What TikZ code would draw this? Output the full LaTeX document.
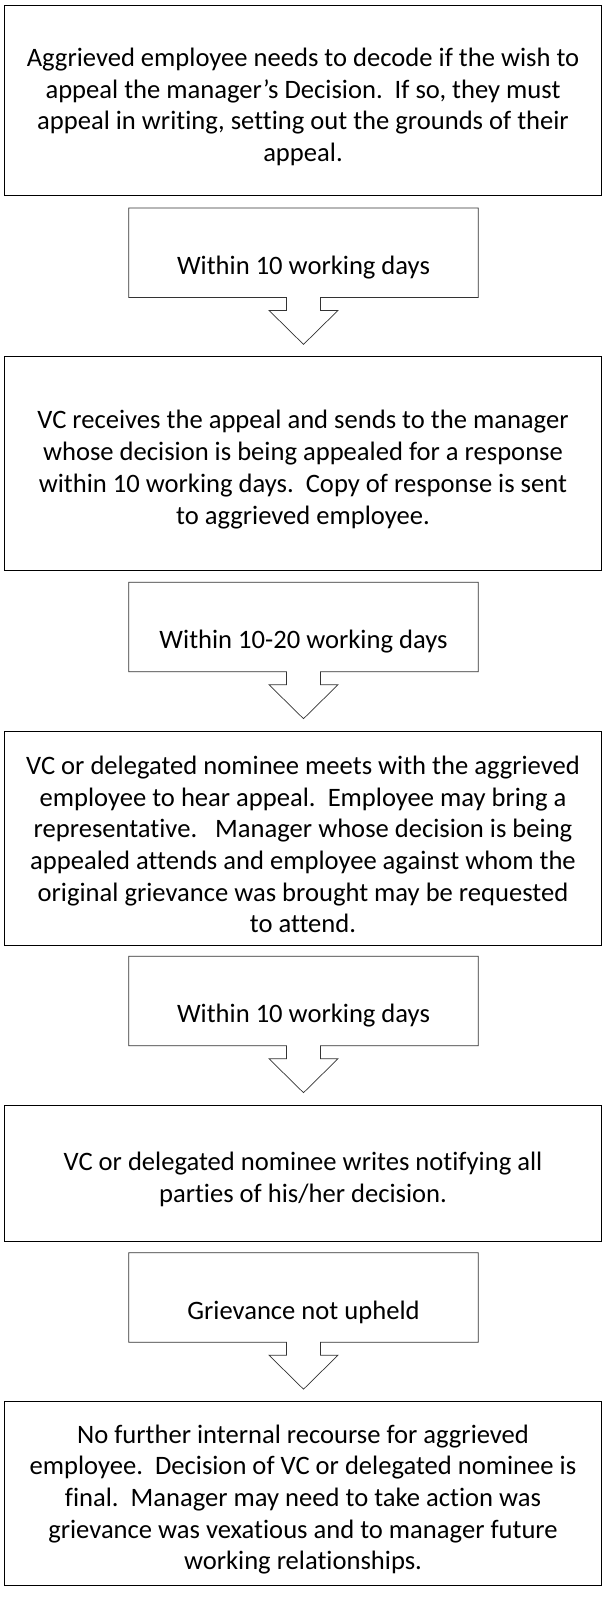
\documentclass[tikz,border=0pt]{standalone}
\usepackage{fontspec}
\setmainfont{Carlito}[Ligatures=NoCommon]
\usetikzlibrary{calc}
\begin{document}
\begin{tikzpicture}[x=1pt,y=-1pt,
  box/.style={draw=black,line width=0.9pt,minimum width=597.5pt,inner sep=0pt},
  txt/.style={align=center,inner sep=0pt,font=\fontsize{26.6}{31.7}\selectfont},
  calloutbox/.style={minimum width=349pt,minimum height=89pt,inner sep=0pt},
  calloutline/.style={draw=black!80,fill=white,line width=0.7pt,line join=miter}]
\useasboundingbox (0,0) rectangle (604,1620);

% Box 1
\node[box,minimum height=190.5pt] (b1) at (303,100.3) {};
\node[txt] (t1) at ($(b1.center)+(0,6.5)$) {Aggrieved employee needs to decode if the wish to\\appeal the manager’s Decision.\ \ If so, they must\\appeal in writing, setting out the grounds of their\\appeal.};

% Callout 1
\node[calloutbox] (c1) at (303.5,252.7) {};
\draw[calloutline] ($(c1.south)+(-17,0)$) -- (c1.south west) -- (c1.north west) -- (c1.north east) -- (c1.south east) -- ($(c1.south)+(17,0)$) -- ($(c1.south)+(17,13)$) -- ($(c1.south)+(34.5,13)$) -- ($(c1.south)+(0,47)$) -- ($(c1.south)+(-34.5,13)$) -- ($(c1.south)+(-17,13)$) -- cycle;
\node[txt] (ct1) at ($(c1.center)+(0,14.5)$) {Within 10 working days};

% Box 2
\node[box,minimum height=214pt] (b2) at (303,463) {};
\node[txt] (t2) at ($(b2.center)+(0,6.5)$) {VC receives the appeal and sends to the manager\\whose decision is being appealed for a response\\within 10 working days.\ \ Copy of response is sent\\to aggrieved employee.};

% Callout 2
\node[calloutbox] (c2) at (303.5,627) {};
\draw[calloutline] ($(c2.south)+(-17,0)$) -- (c2.south west) -- (c2.north west) -- (c2.north east) -- (c2.south east) -- ($(c2.south)+(17,0)$) -- ($(c2.south)+(17,13)$) -- ($(c2.south)+(34.5,13)$) -- ($(c2.south)+(0,47)$) -- ($(c2.south)+(-34.5,13)$) -- ($(c2.south)+(-17,13)$) -- cycle;
\node[txt] (ct2) at ($(c2.center)+(0,14.5)$) {Within 10-20 working days};

% Box 3
\node[box,minimum height=214pt] (b3) at (303,838) {};
\node[txt] (t3) at ($(b3.center)+(0,6.5)$) {VC or delegated nominee meets with the aggrieved\\employee to hear appeal.\ \ Employee may bring a\\representative.\ \ \ Manager whose decision is being\\appealed attends and employee against whom the\\original grievance was brought may be requested\\to attend.};

% Callout 3
\node[calloutbox] (c3) at (303.5,1001) {};
\draw[calloutline] ($(c3.south)+(-17,0)$) -- (c3.south west) -- (c3.north west) -- (c3.north east) -- (c3.south east) -- ($(c3.south)+(17,0)$) -- ($(c3.south)+(17,13)$) -- ($(c3.south)+(34.5,13)$) -- ($(c3.south)+(0,47)$) -- ($(c3.south)+(-34.5,13)$) -- ($(c3.south)+(-17,13)$) -- cycle;
\node[txt] (ct3) at ($(c3.center)+(0,14.5)$) {Within 10 working days};

% Box 4
\node[box,minimum height=136pt] (b4) at (303,1173) {};
\node[txt] (t4) at ($(b4.center)+(0,6.5)$) {VC or delegated nominee writes notifying all\\parties of his/her decision.};

% Callout 4
\node[calloutbox] (c4) at (303.5,1297.5) {};
\draw[calloutline] ($(c4.south)+(-17,0)$) -- (c4.south west) -- (c4.north west) -- (c4.north east) -- (c4.south east) -- ($(c4.south)+(17,0)$) -- ($(c4.south)+(17,13)$) -- ($(c4.south)+(34.5,13)$) -- ($(c4.south)+(0,47)$) -- ($(c4.south)+(-34.5,13)$) -- ($(c4.south)+(-17,13)$) -- cycle;
\node[txt] (ct4) at ($(c4.center)+(0,14.5)$) {Grievance not upheld};

% Box 5
\node[box,minimum height=184pt] (b5) at (303,1493) {};
\node[txt] (t5) at ($(b5.center)+(0,6.5)$) {No further internal recourse for aggrieved\\employee.\ \ Decision of VC or delegated nominee is\\final.\ \ Manager may need to take action was\\grievance was vexatious and to manager future\\working relationships.};
\end{tikzpicture}
\end{document}
